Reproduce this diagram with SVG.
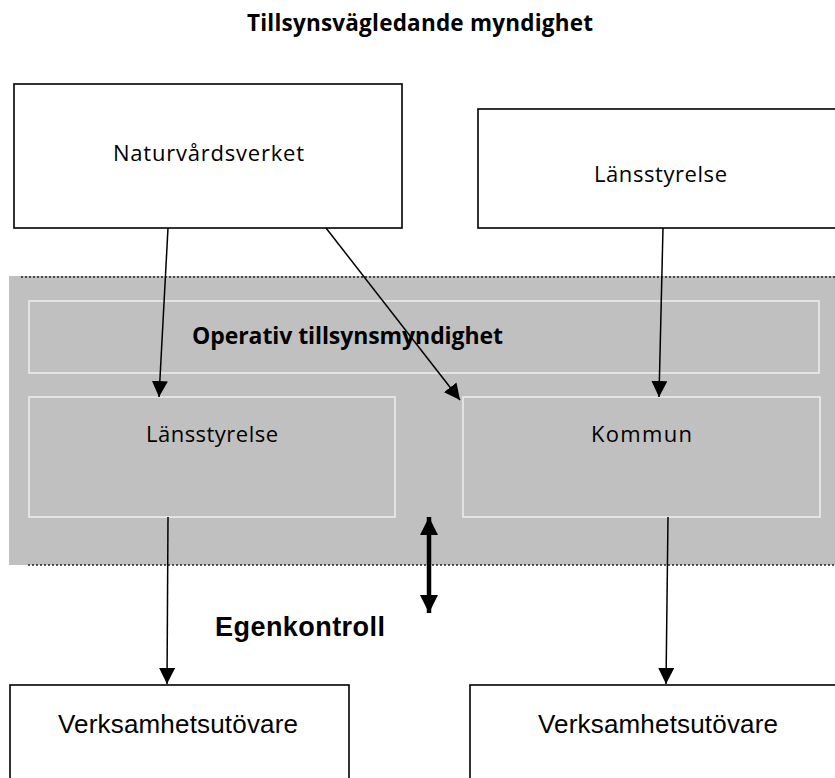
<svg xmlns="http://www.w3.org/2000/svg" width="835" height="778" viewBox="0 0 835 778">
<style>
.box{fill:#fff;stroke:#000;stroke-width:1.6}
.inner{fill:#c0c0c0;stroke:#ececec;stroke-width:1.6}
.hs{font-family:"Open Sans","Noto Sans",sans-serif;fill:#000}
.ar{font-family:"Liberation Sans",Arial,sans-serif;fill:#000}
.con{stroke:#000;stroke-width:1.5;fill:none;marker-end:url(#ah)}
.dot{stroke:#222;stroke-width:1.5;stroke-dasharray:2 2}
</style>
<defs>
<marker id="ah" viewBox="0 0 10 10" refX="10" refY="5" markerWidth="16" markerHeight="16" markerUnits="userSpaceOnUse" orient="auto">
<path d="M0,0 L10,5 L0,10 z" fill="#000"/>
</marker>
<marker id="ah2" viewBox="0 0 10 10" refX="10" refY="5" markerWidth="18" markerHeight="18" markerUnits="userSpaceOnUse" orient="auto-start-reverse">
<path d="M0,0 L10,5 L0,10 z" fill="#000"/>
</marker>
</defs>
<rect width="835" height="778" fill="#fff"/>
<text class="hs" x="420" y="31" font-size="22.5" font-weight="bold" text-anchor="middle" textLength="346">Tillsynsvägledande myndighet</text>
<g id="band">
<rect x="9" y="276" width="830" height="289" fill="#c0c0c0"/>
<line class="dot" x1="21" y1="277" x2="835" y2="277"/>
<line class="dot" x1="28" y1="565" x2="835" y2="565"/>
</g>
<g id="operativ">
<rect class="inner" x="29" y="301" width="790" height="72"/>
<text class="hs" x="347.5" y="344" font-size="23" font-weight="bold" text-anchor="middle" textLength="311">Operativ tillsynsmyndighet</text>
</g>
<g id="naturvardsverket">
<rect class="box" x="14" y="84" width="388" height="144"/>
<text class="hs" x="208.5" y="161" font-size="22" text-anchor="middle" textLength="191">Naturvårdsverket</text>
</g>
<g id="lansstyrelse-top">
<rect class="box" x="478" y="109" width="370" height="119"/>
<text class="hs" x="660.5" y="182" font-size="22" text-anchor="middle" textLength="133">Länsstyrelse</text>
</g>
<g id="lansstyrelse-op">
<rect class="inner" x="29" y="397" width="366" height="120"/>
<text class="hs" x="212" y="442" font-size="22" text-anchor="middle" textLength="132">Länsstyrelse</text>
</g>
<g id="kommun">
<rect class="inner" x="463" y="397" width="357" height="120"/>
<text class="hs" x="641.5" y="442" font-size="22" text-anchor="middle" textLength="101">Kommun</text>
</g>
<g id="verksamhet-left">
<rect class="box" x="10" y="685" width="339" height="110"/>
<text class="ar" x="178" y="733" font-size="26" text-anchor="middle" textLength="240">Verksamhetsutövare</text>
</g>
<g id="verksamhet-right">
<rect class="box" x="470" y="685" width="380" height="110"/>
<text class="ar" x="658" y="733" font-size="26" text-anchor="middle" textLength="240">Verksamhetsutövare</text>
</g>
<text class="ar" x="300" y="636" font-size="27" font-weight="bold" text-anchor="middle" textLength="170">Egenkontroll</text>
<g id="connectors">
<line class="con" x1="168" y1="228" x2="159" y2="397"/>
<line class="con" x1="326" y1="228" x2="460" y2="400"/>
<line class="con" x1="663" y1="228" x2="659" y2="397"/>
<line class="con" x1="168" y1="517" x2="167" y2="684"/>
<line class="con" x1="668" y1="517" x2="666" y2="684"/>
<line x1="429" y1="517" x2="429" y2="613" stroke="#000" stroke-width="4.5" marker-start="url(#ah2)" marker-end="url(#ah2)"/>
</g>
</svg>
